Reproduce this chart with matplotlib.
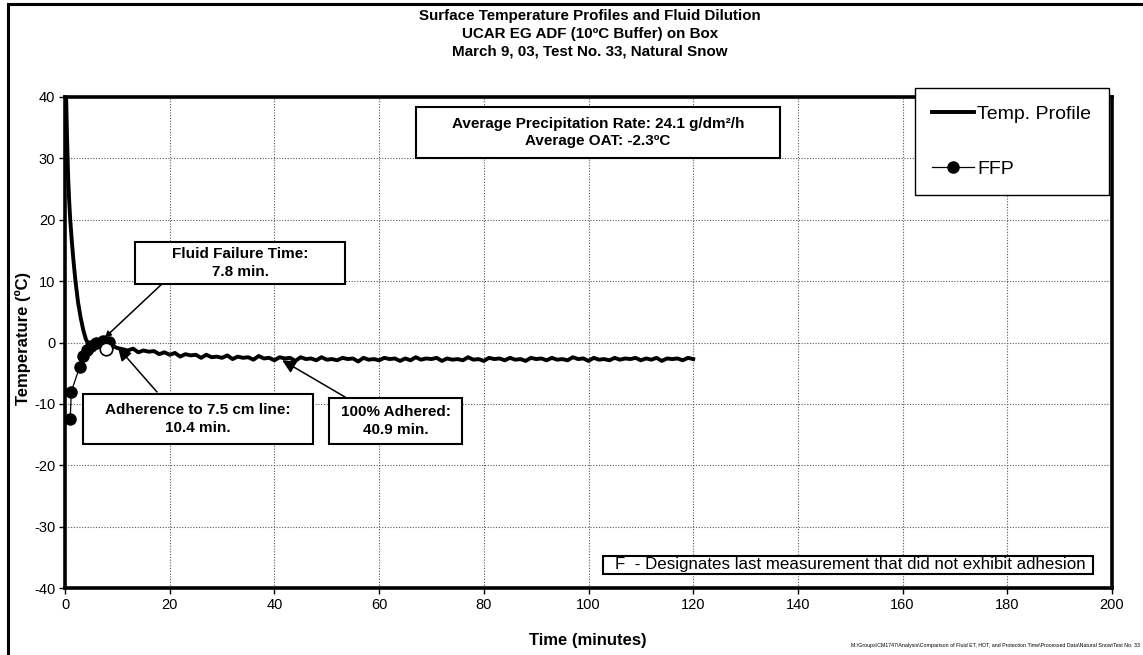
import matplotlib
matplotlib.use("Agg")
import matplotlib.pyplot as plt
from matplotlib.patches import Rectangle
from matplotlib.lines import Line2D

plt.rcParams['font.family'] = ['Liberation Sans', 'DejaVu Sans']
plt.rcParams['axes.unicode_minus'] = False

W, H = 1143, 655

# surface temperature profile (min, degC)
temp_t = [0.2, 0.4, 0.6, 0.8, 1.0, 1.3, 1.6, 2.0, 2.5, 3.0, 3.5, 4.0, 4.5, 5.0,
          5.5, 6.0, 6.5, 7.0, 7.5, 8.0, 8.5, 9.0, 9.5, 10.0] + list(range(11, 121))
temp_c = [40.7, 33.0, 27.0, 23.0, 20.0, 16.5, 13.5, 10.0, 6.5, 4.0, 2.0, 0.5, -0.2, -0.4,
          -0.3, -0.2, -0.3, -0.5, -0.6, -0.5, -0.7, -0.8, -0.7, -0.9,
          -1.1, -1.3, -1.0, -1.6, -1.3, -1.5, -1.4, -1.9, -1.6, -2.0,
          -1.7, -2.3, -1.9, -2.1, -2.0, -2.5, -2.0, -2.4, -2.3, -2.5,
          -2.1, -2.7, -2.3, -2.5, -2.4, -2.8, -2.2, -2.6, -2.5, -2.9,
          -2.4, -2.6, -2.5, -3.0, -2.4, -2.7, -2.6, -2.9, -2.4, -2.8,
          -2.7, -2.9, -2.5, -2.7, -2.6, -3.1, -2.5, -2.8, -2.7, -2.9,
          -2.5, -2.7, -2.6, -3.0, -2.6, -2.9, -2.4, -2.8, -2.6, -2.7,
          -2.5, -3.0, -2.6, -2.8, -2.7, -2.9, -2.4, -2.8, -2.7, -3.0,
          -2.5, -2.7, -2.6, -2.9, -2.5, -2.8, -2.7, -3.0, -2.5, -2.7,
          -2.6, -2.9, -2.5, -2.8, -2.7, -2.9, -2.4, -2.7, -2.6, -3.0,
          -2.5, -2.8, -2.7, -2.9, -2.5, -2.8, -2.6, -2.7, -2.5, -2.9,
          -2.6, -2.8, -2.5, -3.0, -2.6, -2.7, -2.6, -2.9, -2.5, -2.7]

# fluid freezing point samples
ffp_t = [1.0, 1.2, 2.8, 3.4, 4.2, 5.0, 6.0, 7.2, 8.5]
ffp_c = [-12.5, -8.0, -4.0, -2.2, -1.2, -0.5, -0.1, 0.2, 0.1]

# events
fail_t, fail_c = 7.8, -1.0
events = {"fail": (7.6, 0.8), "adh75": (10.1, -0.8), "adh100": (41.5, -2.9)}

title = ("Surface Temperature Profiles and Fluid Dilution\n"
         "UCAR EG ADF (10ºC Buffer) on Box\n"
         "March 9, 03, Test No. 33, Natural Snow")


def fx(x):
    return x / W


def fy(y):
    return 1 - y / H


fig = plt.figure(figsize=(W / 100, H / 100), dpi=100)
ax = fig.add_axes([fx(65), fy(588), fx(1112) - fx(65), fy(97) - fy(588)])

ax.plot(temp_t, temp_c, color='black', lw=2.8, zorder=3, label='Temp. Profile')
ax.plot(ffp_t, ffp_c, color='black', lw=0.9, marker='o', ms=8, zorder=4, label='FFP')
ax.plot([fail_t], [fail_c], marker='o', ms=9, mfc='white', mec='black', mew=1.2,
        ls='none', zorder=5)

ax.set_xlim(0, 200)
ax.set_ylim(-40, 40)
ax.set_xticks(range(0, 201, 20))
ax.set_yticks(range(-40, 41, 10))
ax.grid(True, color='0.35', lw=0.8, ls=(0, (1, 1.5)))
for s in ax.spines.values():
    s.set_linewidth(2.6)
ax.tick_params(direction='out', length=4, width=1, labelsize=10.5, pad=3)

fig.text(fx(590), fy(9), title, ha='center', va='top', fontsize=10.9,
         fontweight='bold', linespacing=1.36)
fig.text(fx(23), fy(338), "Temperature (ºC)", rotation=90, ha='center', va='center',
         fontsize=12, fontweight='bold')
fig.text(fx(588), fy(640), "Time (minutes)", ha='center', va='center',
         fontsize=12, fontweight='bold')

# outer chart frame
fig.patches.append(Rectangle((fx(8), fy(H + 10)), fx(W + 10), fy(4) - fy(H + 10),
                             transform=fig.transFigure, fill=False, lw=2.2,
                             ec='black'))


def box(x0, y0, x1, y1, text, weight='bold', size=11, ha='center'):
    fig.patches.append(Rectangle((fx(x0), fy(y1)), fx(x1) - fx(x0), fy(y0) - fy(y1),
                                 transform=fig.transFigure, fc='white', ec='black',
                                 lw=1.5, zorder=6))
    xt = (x0 + x1) / 2 if ha == 'center' else x0 + 12
    fig.text(fx(xt), fy((y0 + y1) / 2), text, ha=ha, va='center', fontsize=size,
             fontweight=weight, linespacing=1.35, zorder=7)


def arrow(key, x, y, scale):
    ax.annotate("", xy=events[key], xytext=(fx(x), fy(y)), textcoords='figure fraction',
                arrowprops=dict(arrowstyle='-|>', color='black', lw=1.1,
                                mutation_scale=scale, shrinkA=0, shrinkB=0),
                zorder=6)


arrow("fail", 163, 283, 9)
arrow("adh75", 157, 392, 20)
arrow("adh100", 345, 397, 20)

box(416, 107, 780, 158, "Average Precipitation Rate: 24.1 g/dm²/h\nAverage OAT: -2.3ºC")
box(135, 242, 345, 284, "Fluid Failure Time:\n7.8 min.")
box(83, 394, 313, 444, "Adherence to 7.5 cm line:\n10.4 min.")
box(329, 398, 462, 444, "100% Adhered:\n40.9 min.")
box(603, 556, 1093, 574, "F  - Designates last measurement that did not exhibit adhesion",
    weight='normal', size=12.2, ha='left')

handles = [Line2D([], [], color='black', lw=2.8),
           Line2D([], [], color='black', lw=0.9, marker='o', ms=8)]
leg = fig.legend(handles, ['Temp. Profile', 'FFP'], loc='upper left',
                 bbox_to_anchor=(fx(915), fy(88)), fontsize=14, frameon=True,
                 fancybox=False, edgecolor='black', framealpha=1, borderpad=0.9,
                 labelspacing=1.9, handlelength=2.15, handletextpad=0.15,
                 borderaxespad=0)
leg.get_frame().set_linewidth(1.0)

fig.text(fx(1140), fy(646), "M:\\Groups\\CM1747\\Analysis\\Comparison of Fluid ET, HOT, "
         "and Protection Time\\Processed Data\\Natural Snow\\Test No. 33",
         ha='right', va='center', fontsize=3.8)

fig.savefig("out.png", dpi=100)
